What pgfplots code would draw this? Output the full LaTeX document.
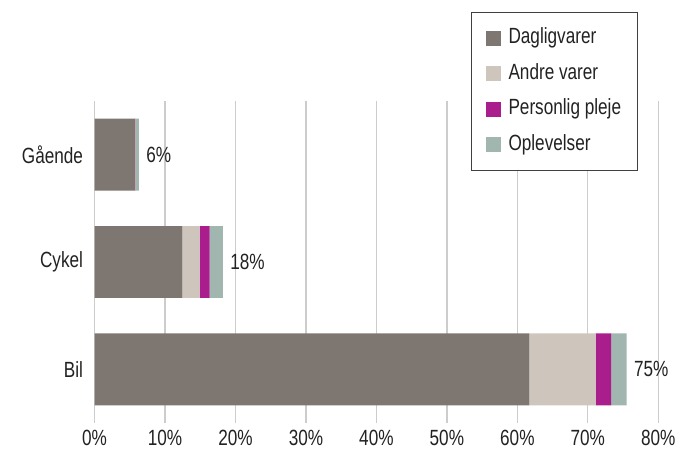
\documentclass[border=0pt]{standalone}
\usepackage{fontspec}
\setmainfont{Liberation Sans}[FakeStretch=0.78]
\usepackage{pgfplots}
\pgfplotsset{compat=1.18}
\definecolor{dagl}{HTML}{7E7671}
\definecolor{andre}{HTML}{CEC6BC}
\definecolor{pleje}{HTML}{A91D8D}
\definecolor{oplev}{HTML}{A1B6AE}
\definecolor{gridgray}{HTML}{CCCCCC}
\definecolor{txt}{HTML}{222222}

\begin{document}
\fontsize{22}{26}\selectfont
\begin{tikzpicture}
\useasboundingbox (0,0) rectangle (679pt,451pt);
\begin{axis}[
  at={(94.5pt,28pt)}, anchor=south west,
  scale only axis, width=563.8pt, height=322pt,
  clip=false,
  xbar stacked, bar width=0.67,
  xmin=0, xmax=80, ymin=-0.5, ymax=2.5,
  ytick={0,1,2}, yticklabels={Bil,Cykel,Gående},
  xtick={0,10,...,80},
  xticklabel={\pgfmathprintnumber{\tick}\%},
  /pgf/number format/assume math mode=true,
  xmajorgrids, grid style={gridgray, line width=1.3pt},
  axis line style={draw=none}, tick style={draw=none},
  ticklabel style={font=\fontsize{22}{26}\selectfont, text=txt},
  yticklabel style={xshift=-4pt},
  legend cell align=left,
  legend image code/.code={\fill[#1] (0pt,-7.5pt) rectangle (15pt,7.5pt);},
  legend style={at={(axis description cs:0.964,1.276)}, anchor=north east,
    draw=black!75, line width=0.8pt, fill=white, inner xsep=14.5pt, inner ysep=14pt,
    row sep=12pt, font=\fontsize{22}{26}\selectfont, text=txt,
    /tikz/every odd column/.style={column sep=6pt},
    nodes={inner sep=2pt, text height=15pt, text depth=4.5pt}},
]
\addplot[fill=dagl, draw=none] coordinates {(61.7,0) (12.46,1) (5.77,2)};
\addlegendentry{Dagligvarer}
\addplot[fill=andre, draw=none] coordinates {(9.4,0) (2.47,1) (0.04,2)};
\addlegendentry{Andre varer}
\addplot[fill=pleje, draw=none] coordinates {(2.2,0) (1.42,1) (0.04,2)};
\addlegendentry{Personlig pleje}
\addplot[fill=oplev, draw=none] coordinates {(2.2,0) (1.85,1) (0.45,2)};
\addlegendentry{Oplevelser}
\node[anchor=west, text=txt] at (axis cs:75.5,0) {75\%};
\node[anchor=west, text=txt] at (axis cs:18.2,1) {18\%};
\node[anchor=west, text=txt] at (axis cs:6.3,2) {6\%};
\end{axis}
\end{tikzpicture}
\end{document}
